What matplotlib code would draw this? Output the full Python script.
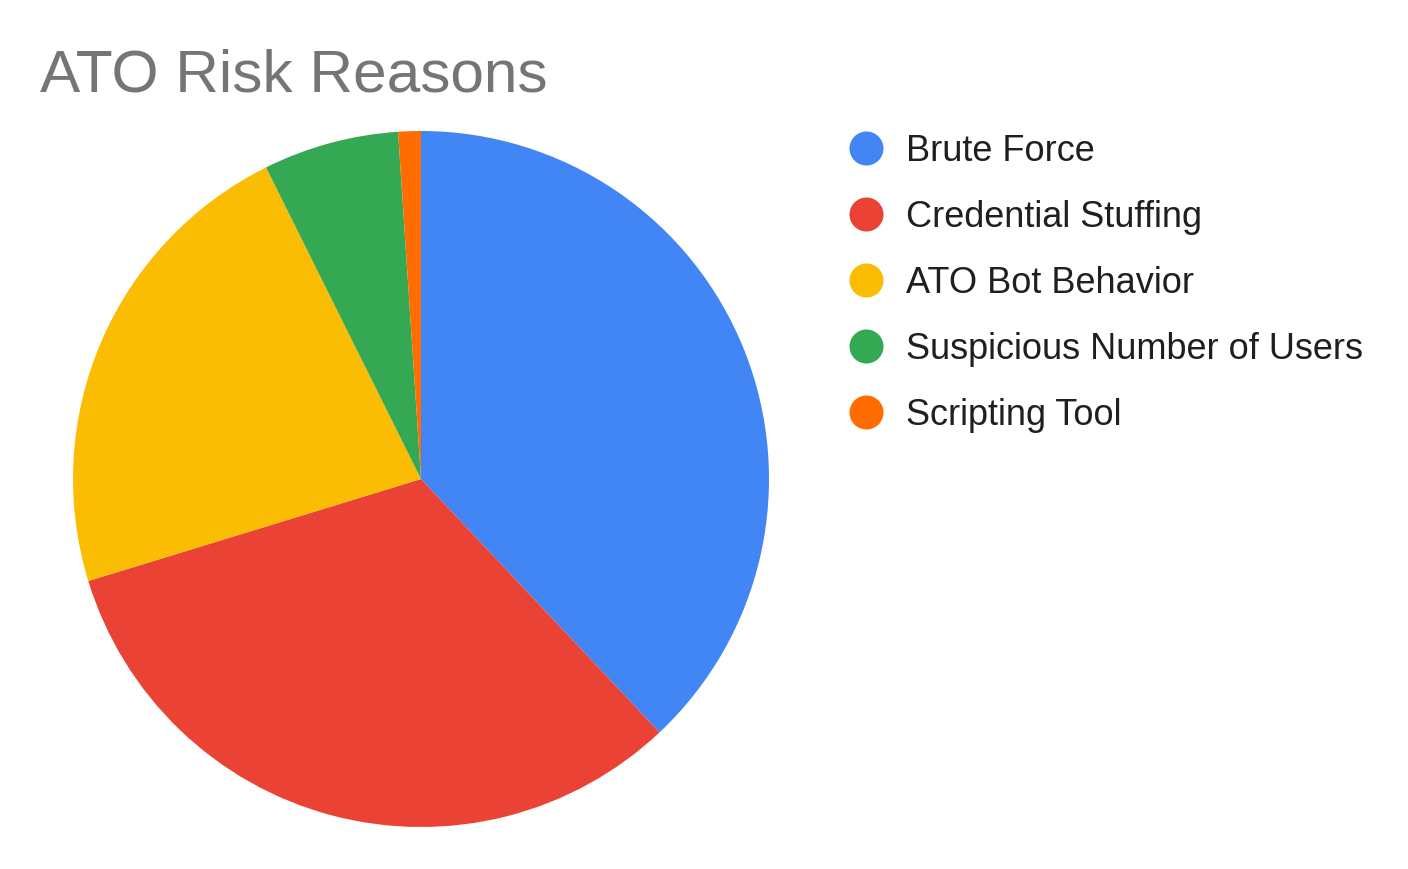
import matplotlib
matplotlib.use("Agg")
import matplotlib.pyplot as plt
from matplotlib.lines import Line2D

plt.rcParams['font.family'] = ['Liberation Sans', 'DejaVu Sans']

# data
reasons = ['Brute Force', 'Credential Stuffing', 'ATO Bot Behavior',
           'Suspicious Number of Users', 'Scripting Tool']
shares = [38.0, 32.3, 22.4, 6.3, 1.05]
colors = ['#4285F4', '#EA4335', '#FBBC04', '#34A853', '#FF6D01']

W, H = 1408, 870
fig = plt.figure(figsize=(W / 100, H / 100), dpi=100)

# pie centred at (421, 480) px, radius 348 px
cx, cy, r = 421, 480, 348
ax = fig.add_axes([(cx - r) / W, (H - cy - r) / H, 2 * r / W, 2 * r / H])
ax.pie(shares, colors=colors, startangle=90, counterclock=False,
       wedgeprops=dict(linewidth=0))
ax.set_xlim(-1, 1)
ax.set_ylim(-1, 1)
ax.set_aspect('equal')
ax.axis('off')

fig.text(40 / W, 1 - 91 / H, 'ATO Risk Reasons', fontsize=43.5,
         color='#757575', va='baseline', ha='left')

# legend, drawn by hand to match the spacing
for i, (name, col) in enumerate(zip(reasons, colors)):
    y = 149 + 66 * i
    fig.add_artist(Line2D([866 / W], [1 - y / H], marker='o', markersize=24.5,
                          color=col, markeredgewidth=0, linestyle='none',
                          transform=fig.transFigure))
    fig.text(906 / W, 1 - (y + 12) / H, name, fontsize=26, color='#1f1f1f',
             va='baseline', ha='left')

fig.savefig('out.png', dpi=100, facecolor='white')
